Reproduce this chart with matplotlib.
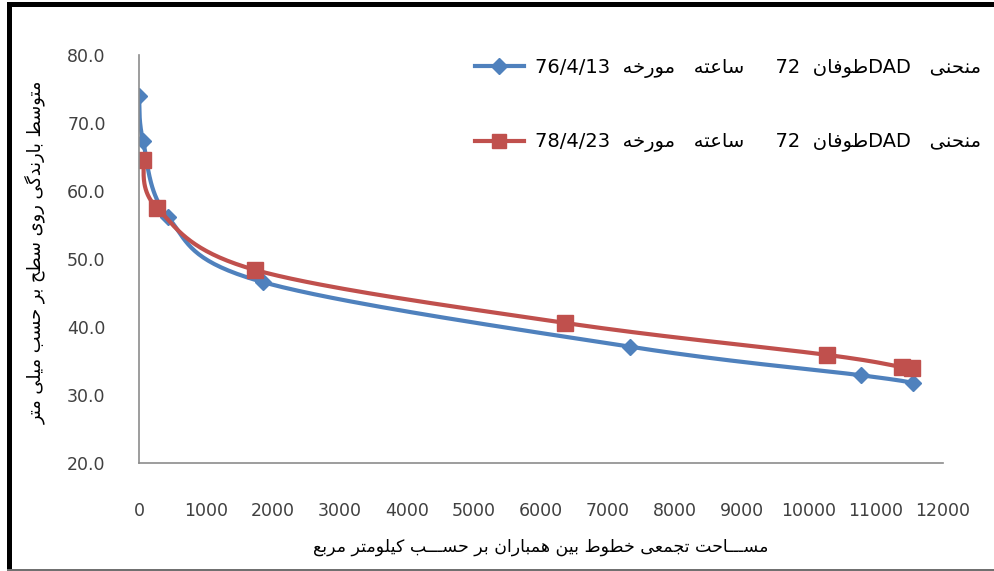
import re
import numpy as np
import matplotlib
matplotlib.use('Agg')
import matplotlib.pyplot as plt
from matplotlib.lines import Line2D
from matplotlib.patches import Rectangle

# data
blue_x = [0, 60, 430, 1850, 7330, 10780, 11550]
blue_y = [74.0, 67.4, 56.2, 46.6, 37.1, 32.9, 31.8]
red_x = [60, 270, 1730, 6360, 10270, 11390, 11540]
red_y = [64.6, 57.5, 48.4, 40.6, 35.9, 34.1, 34.0]

blue_label = 'منحنی   DADطوفان  72     ساعته   مورخه  76/4/13'
red_label = 'منحنی   DADطوفان  72     ساعته   مورخه  78/4/23'
x_label = 'مســـاحت تجمعی خطوط بین همباران بر حســـب کیلومتر مربع'
y_label = 'متوسط بارندگی روی سطح بر حسب میلی متر'
xticks = list(range(0, 12001, 1000))
yticks = [20, 30, 40, 50, 60, 70, 80]

# arabic letter forms: isolated, final, initial, medial
FORMS = {
    'ا': ('\uFE8D', '\uFE8E', None, None),
    'ب': ('\uFE8F', '\uFE90', '\uFE91', '\uFE92'),
    'ت': ('\uFE95', '\uFE96', '\uFE97', '\uFE98'),
    'ج': ('\uFE9D', '\uFE9E', '\uFE9F', '\uFEA0'),
    'ح': ('\uFEA1', '\uFEA2', '\uFEA3', '\uFEA4'),
    'خ': ('\uFEA5', '\uFEA6', '\uFEA7', '\uFEA8'),
    'د': ('\uFEA9', '\uFEAA', None, None),
    'ر': ('\uFEAD', '\uFEAE', None, None),
    'ز': ('\uFEAF', '\uFEB0', None, None),
    'س': ('\uFEB1', '\uFEB2', '\uFEB3', '\uFEB4'),
    'ط': ('\uFEC1', '\uFEC2', '\uFEC3', '\uFEC4'),
    'ع': ('\uFEC9', '\uFECA', '\uFECB', '\uFECC'),
    'ف': ('\uFED1', '\uFED2', '\uFED3', '\uFED4'),
    'ل': ('\uFEDD', '\uFEDE', '\uFEDF', '\uFEE0'),
    'م': ('\uFEE1', '\uFEE2', '\uFEE3', '\uFEE4'),
    'ن': ('\uFEE5', '\uFEE6', '\uFEE7', '\uFEE8'),
    'ه': ('\uFEE9', '\uFEEA', '\uFEEB', '\uFEEC'),
    'و': ('\uFEED', '\uFEEE', None, None),
    'ی': ('\uFBFC', '\uFBFD', '\uFBFE', '\uFBFF'),
    'ک': ('\uFB8E', '\uFB8F', '\uFB90', '\uFB91'),
    'گ': ('\uFB92', '\uFB93', '\uFB94', '\uFB95'),
    'ـ': ('ـ', 'ـ', 'ـ', 'ـ'),
}


def fa(text):
    out = []
    for i, c in enumerate(text):
        if c not in FORMS:
            out.append(c)
            continue
        prev = text[i - 1] if i > 0 else ''
        nxt = text[i + 1] if i + 1 < len(text) else ''
        jp = prev in FORMS and FORMS[prev][2] is not None
        jn = nxt in FORMS and FORMS[c][2] is not None
        f = FORMS[c]
        if jp and jn:
            out.append(f[3])
        elif jp:
            out.append(f[1])
        elif jn:
            out.append(f[2])
        else:
            out.append(f[0])
    s = ''.join(out)[::-1]
    return re.sub(r'[A-Za-z0-9/.]+', lambda m: m.group()[::-1], s)


def smooth(ax, xs, ys, n=40):
    # excel-like bezier smoothing, done in pixel space
    p = ax.transData.transform(np.column_stack([xs, ys]))
    pts = np.vstack([p[0], p, p[-1]])
    curve = []
    t = np.linspace(0, 1, n)[:, None]
    for i in range(1, len(pts) - 2):
        p0, p1 = pts[i], pts[i + 1]
        c1 = p0 + (pts[i + 1] - pts[i - 1]) / 6
        c2 = p1 - (pts[i + 2] - pts[i]) / 6
        seg = (1 - t) ** 3 * p0 + 3 * (1 - t) ** 2 * t * c1 + 3 * (1 - t) * t ** 2 * c2 + t ** 3 * p1
        curve.append(seg)
    curve = np.vstack(curve)
    d = ax.transData.inverted().transform(curve)
    return d[:, 0], d[:, 1]


blue = '#4F81BD'
red = '#C0504D'

fig = plt.figure(figsize=(9.95, 5.71), dpi=100)
ax = fig.add_axes([139 / 995, 1 - 463 / 571, 804 / 995, 408 / 571])
ax.set_xlim(0, 12000)
ax.set_ylim(20, 80)

bx, by = smooth(ax, blue_x, blue_y)
ax.plot(bx, by, color=blue, lw=3, solid_capstyle='round')
ax.plot(blue_x, blue_y, ls='none', marker='D', ms=8, color=blue)
rx, ry = smooth(ax, red_x, red_y)
ax.plot(rx, ry, color=red, lw=3, solid_capstyle='round')
ax.plot(red_x, red_y, ls='none', marker='s', ms=11, color=red)

ax.set_xticks(xticks)
ax.set_xticklabels([str(v) for v in xticks])
ax.set_yticks(yticks)
ax.set_yticklabels(['%.1f' % v for v in yticks])
ax.tick_params(length=0, labelsize=12.5, labelcolor='#404040')
ax.tick_params(axis='x', pad=28)
ax.tick_params(axis='y', pad=24)
for s in ['top', 'right']:
    ax.spines[s].set_visible(False)
for s in ['left', 'bottom']:
    ax.spines[s].set_color('#8c8c8c')
    ax.spines[s].set_linewidth(1.2)

fig.text(541 / 995, 1 - 547 / 571, fa(x_label), ha='center', va='center', fontsize=12.5)
fig.text(35 / 995, 1 - 252 / 571, fa(y_label), ha='center', va='center', rotation=90, fontsize=12.8)

handles = [Line2D([], [], color=blue, lw=3, marker='D', ms=8),
           Line2D([], [], color=red, lw=3, marker='s', ms=10)]
fig.legend(handles, [fa(blue_label), fa(red_label)], loc='upper left',
           bbox_to_anchor=(475 / 995, 1 - 58 / 571), frameon=False, fontsize=14,
           handlelength=2.5, handletextpad=0.6, labelspacing=2.8,
           borderpad=0, borderaxespad=0)

# frame around the picture
fig.patches.append(Rectangle((7 / 995, 0), 5 / 995, 1 - 2 / 571, transform=fig.transFigure,
                             color='black', lw=0))
fig.patches.append(Rectangle((7 / 995, 1 - 7 / 571), 1, 5 / 571, transform=fig.transFigure,
                             color='black', lw=0))
fig.patches.append(Rectangle((7 / 995, 0), 1, 2 / 571, transform=fig.transFigure,
                             color='#707070', lw=0))

fig.savefig('out.png', dpi=100)
